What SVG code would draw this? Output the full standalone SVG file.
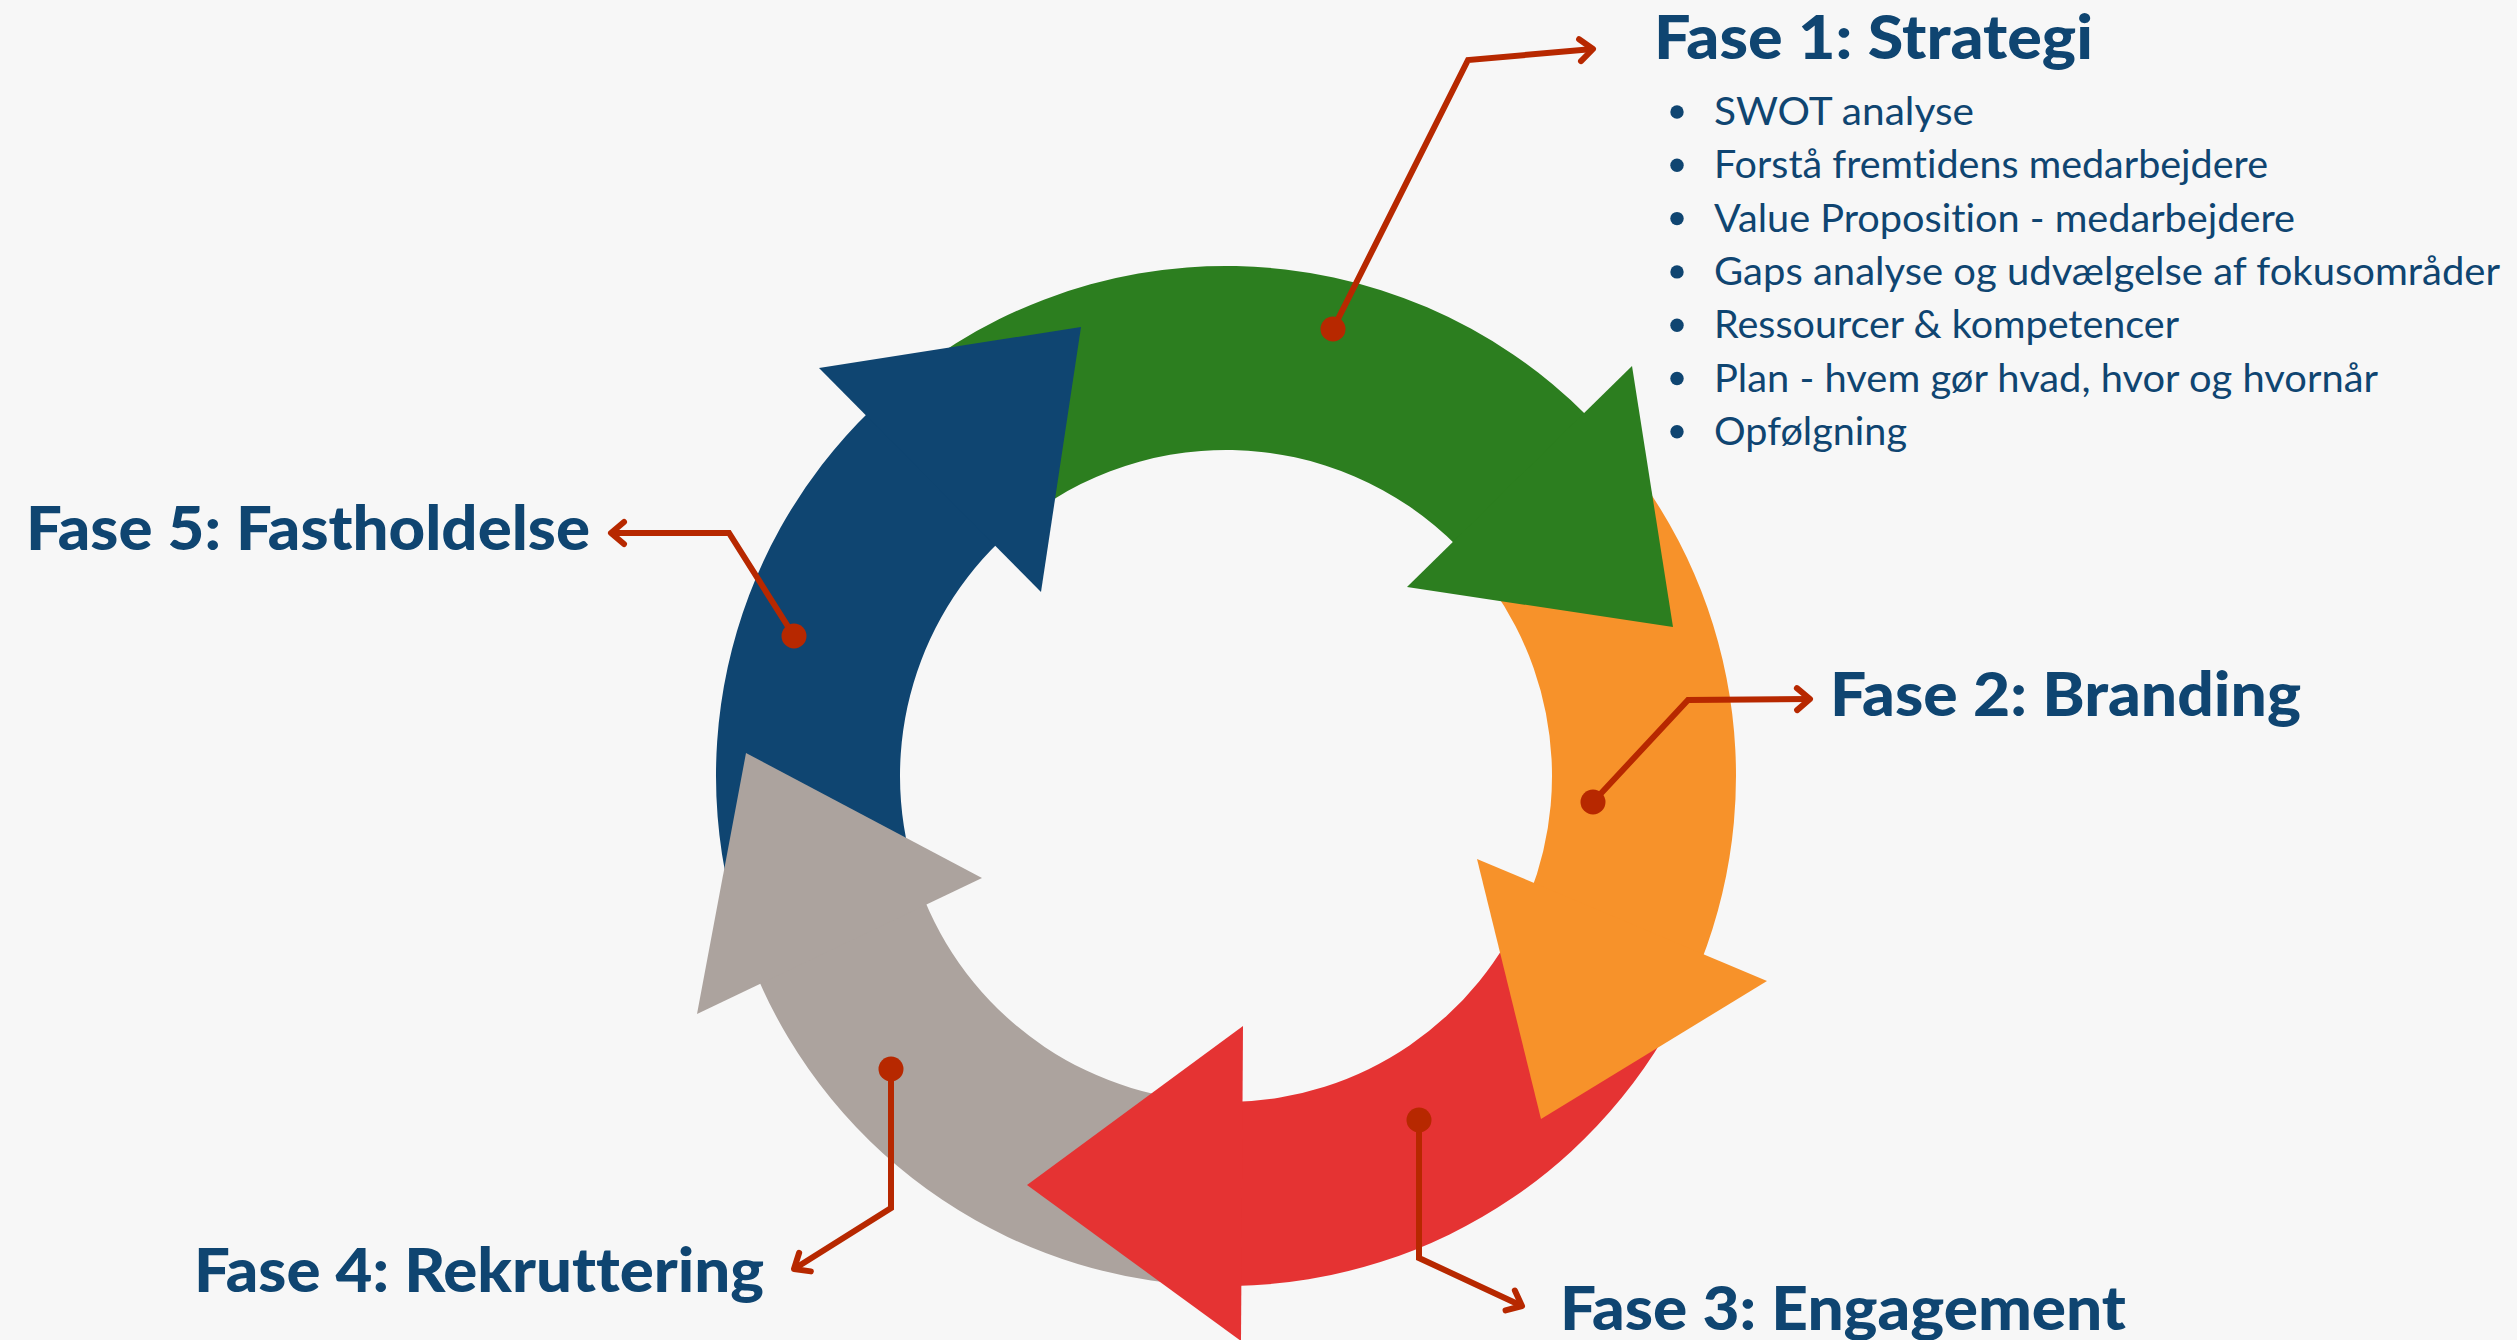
<svg xmlns="http://www.w3.org/2000/svg" width="2517" height="1340" viewBox="0 0 2517 1340">
  <style>
    text { font-variant-ligatures: none; font-feature-settings: "liga" 0, "clig" 0; }
    .h { font-family: Lato, "Liberation Sans", sans-serif; font-weight: 900; font-size: 61px; fill: #0F4571; }
    .b { font-family: Lato, "Liberation Sans", sans-serif; font-weight: 400; font-size: 39px; fill: #0F4571; }
    .dot { fill: #0F4571; }
    .con { fill: none; stroke: #B72800; stroke-width: 6; stroke-linejoin: miter; marker-end: url(#chev); }
    .pin { fill: #B72800; }
  </style>
  <defs>
    <marker id="chev" markerUnits="userSpaceOnUse" markerWidth="40" markerHeight="40" viewBox="-20 -20 40 40" refX="0" refY="0" orient="auto" overflow="visible">
      <path d="M-13,-11 L0,0 L-13,11" fill="none" stroke="#B72800" stroke-width="6" stroke-linecap="round" stroke-linejoin="round"/>
    </marker>
  </defs>
  <rect x="0" y="0" width="2517" height="1340" fill="#F7F7F7"/>

  <g id="cycle">
    <g id="bodies">
      <path id="body-blue" fill="#0F4571" d="M751.16,962.09 A510,510 0 0 1 871.72,409.14 L999.54,541.50 A326,326 0 0 0 922.47,894.95 Z"/>
      <path id="body-green" fill="#2C7E1F" d="M878.18,403.01 A510,510 0 0 1 1588.51,417.27 L1457.72,546.69 A326,326 0 0 0 1003.67,537.58 Z"/>
      <path id="body-orange" fill="#F7922A" d="M1594.71,423.65 A510,510 0 0 1 1700.51,962.92 L1529.32,895.48 A326,326 0 0 0 1461.69,550.77 Z"/>
      <path id="body-red" fill="#E53333" d="M1697.18,971.17 A510,510 0 0 1 1234.90,1285.92 L1231.69,1101.95 A326,326 0 0 0 1527.18,900.76 Z"/>
      <path id="body-gray" fill="#ACA39E" d="M1226,1286 A510,510 0 0 1 754.48,970.35 L924.60,900.23 A326,326 0 0 0 1226,1102 Z"/>
    </g>
    <g id="heads">
      <polygon id="head-green" fill="#2C7E1F" points="1632,366 1673,627 1407,587"/>
      <polygon id="head-orange" fill="#F7922A" points="1767,981 1541,1119 1477,859"/>
      <polygon id="head-red" fill="#E53333" points="1243,1026 1027,1185 1241,1341"/>
      <polygon id="head-gray" fill="#ACA39E" points="982,878 746,753 697,1014"/>
      <polygon id="head-blue" fill="#0F4571" points="819,368 1081,327 1041,592"/>
    </g>
  </g>

  <g id="connectors">
    <polyline class="con" points="1333,329 1468,60 1593,49"/>
    <circle class="pin" cx="1333" cy="329" r="12.5"/>
    <polyline class="con" points="1593,802 1688,700 1810,699"/>
    <circle class="pin" cx="1593" cy="802" r="12.5"/>
    <polyline class="con" points="1419,1120 1419,1258 1522,1306"/>
    <circle class="pin" cx="1419" cy="1120" r="12.5"/>
    <polyline class="con" points="891,1069 891,1208 794,1269"/>
    <circle class="pin" cx="891" cy="1069" r="12.5"/>
    <polyline class="con" points="794,636 729,533 611,533"/>
    <circle class="pin" cx="794" cy="636" r="12.5"/>
  </g>

  <g id="fase1">
    <text class="h" x="1654" y="59" textLength="439" lengthAdjust="spacingAndGlyphs">Fase 1: Strategi</text>
    <g id="fase1-list">
      <circle class="dot" cx="1677" cy="112" r="6.7"/>
      <text class="b" x="1714" y="125" textLength="260" lengthAdjust="spacingAndGlyphs">SWOT analyse</text>
      <circle class="dot" cx="1677" cy="165.3" r="6.7"/>
      <text class="b" x="1714" y="178.3" textLength="554" lengthAdjust="spacingAndGlyphs">Forstå fremtidens medarbejdere</text>
      <circle class="dot" cx="1677" cy="218.6" r="6.7"/>
      <text class="b" x="1714" y="231.6" textLength="581" lengthAdjust="spacingAndGlyphs">Value Proposition - medarbejdere</text>
      <circle class="dot" cx="1677" cy="271.9" r="6.7"/>
      <text class="b" x="1714" y="284.9" textLength="786" lengthAdjust="spacingAndGlyphs">Gaps analyse og udvælgelse af fokusområder</text>
      <circle class="dot" cx="1677" cy="325.2" r="6.7"/>
      <text class="b" x="1714" y="338.2" textLength="465" lengthAdjust="spacingAndGlyphs">Ressourcer &amp; kompetencer</text>
      <circle class="dot" cx="1677" cy="378.5" r="6.7"/>
      <text class="b" x="1714" y="391.5" textLength="664" lengthAdjust="spacingAndGlyphs">Plan - hvem gør hvad, hvor og hvornår</text>
      <circle class="dot" cx="1677" cy="431.8" r="6.7"/>
      <text class="b" x="1714" y="444.8" textLength="193" lengthAdjust="spacingAndGlyphs">Opfølgning</text>
    </g>
  </g>
  <g id="fase2"><text class="h" x="1830" y="716" textLength="471" lengthAdjust="spacingAndGlyphs">Fase 2: Branding</text></g>
  <g id="fase3"><text class="h" x="1560" y="1330" textLength="566" lengthAdjust="spacingAndGlyphs">Fase 3: Engagement</text></g>
  <g id="fase4"><text class="h" x="194" y="1292" textLength="570" lengthAdjust="spacingAndGlyphs">Fase 4: Rekruttering</text></g>
  <g id="fase5"><text class="h" x="26" y="550" textLength="564" lengthAdjust="spacingAndGlyphs">Fase 5: Fastholdelse</text></g>
</svg>
